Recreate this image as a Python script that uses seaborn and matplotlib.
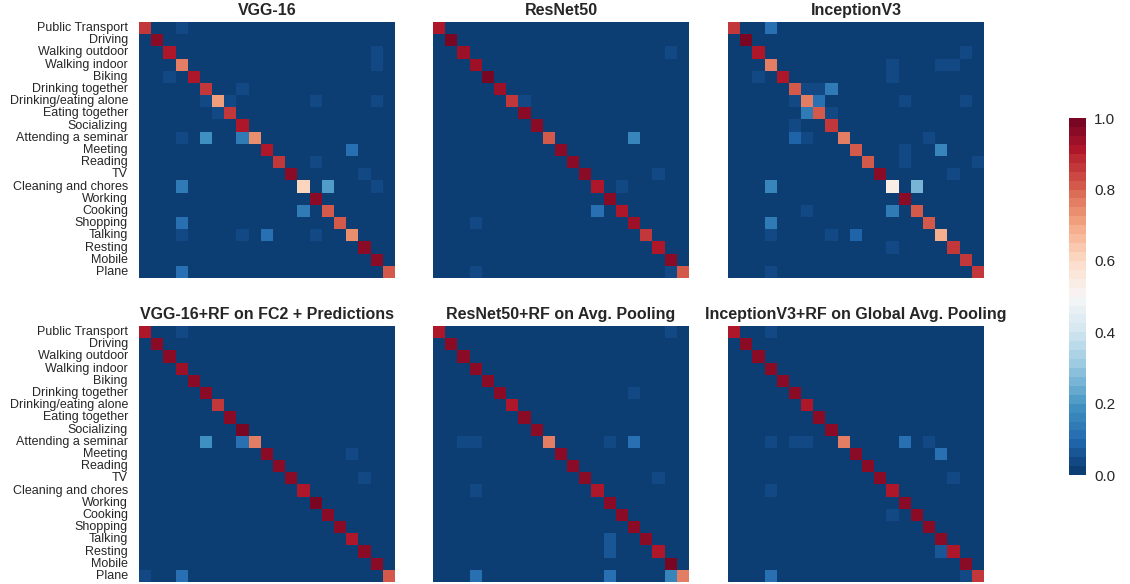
import numpy as np
import pandas as pd
import matplotlib
matplotlib.use('Agg')
import matplotlib.pyplot as plt
import seaborn as sns

sns.set_style('white')
plt.rcParams['font.family'] = ['Liberation Sans', 'DejaVu Sans']
plt.rcParams['text.color'] = '#262626'

activities = ['Public Transport', 'Driving', 'Walking outdoor', 'Walking indoor', 'Biking',
              'Drinking together', 'Drinking/eating alone', 'Eating together', 'Socializing',
              'Attending a seminar', 'Meeting', 'Reading', 'TV', 'Cleaning and chores', 'Working',
              'Cooking', 'Shopping', 'Talking', 'Resting', 'Mobile', 'Plane']

titles = ['VGG-16', 'ResNet50', 'InceptionV3',
          'VGG-16+RF on FC2 + Predictions', 'ResNet50+RF on Avg. Pooling',
          'InceptionV3+RF on Global Avg. Pooling']

# diagonal (correct) rates per model
diag_vgg = [0.87, 0.97, 0.91, 0.76, 0.92, 0.87, 0.72, 0.87, 0.92, 0.74, 0.92,
            0.87, 0.95, 0.60, 0.96, 0.80, 0.80, 0.74, 0.96, 0.96, 0.82]
diag_resnet = [0.91, 0.98, 0.93, 0.93, 0.98, 0.93, 0.87, 0.95, 0.95, 0.80, 0.95,
               0.95, 0.95, 0.91, 0.96, 0.91, 0.94, 0.87, 0.91, 0.96, 0.80]
diag_incep = [0.87, 0.98, 0.92, 0.77, 0.92, 0.80, 0.75, 0.80, 0.87, 0.77, 0.80,
              0.80, 0.95, 0.54, 0.96, 0.80, 0.80, 0.68, 0.87, 0.87, 0.87]
diag_vgg_rf = [0.91, 0.97, 0.95, 0.93, 0.97, 0.95, 0.87, 0.95, 0.98, 0.76, 0.95,
               0.95, 0.95, 0.92, 0.98, 0.95, 0.95, 0.92, 0.96, 0.95, 0.82]
diag_resnet_rf = [0.91, 0.97, 0.97, 0.96, 0.97, 0.96, 0.92, 0.96, 0.97, 0.76, 0.96,
                  0.97, 0.95, 0.91, 0.97, 0.96, 0.96, 0.95, 0.91, 0.98, 0.75]
diag_incep_rf = [0.90, 0.97, 0.95, 0.95, 0.97, 0.95, 0.90, 0.95, 0.96, 0.76, 0.95,
                 0.96, 0.95, 0.92, 0.97, 0.95, 0.95, 0.95, 0.90, 0.97, 0.86]

# off-diagonal confusions: (true row, predicted col, rate)
off_vgg = [(0, 3, 0.04), (2, 19, 0.04), (3, 19, 0.04), (4, 2, 0.04), (5, 8, 0.04),
           (6, 5, 0.04), (6, 7, 0.04), (6, 14, 0.04), (6, 19, 0.04), (7, 6, 0.04),
           (9, 3, 0.04), (9, 5, 0.18), (9, 8, 0.13), (10, 17, 0.12), (11, 14, 0.04),
           (12, 18, 0.04), (13, 3, 0.14), (13, 15, 0.22), (13, 19, 0.04), (15, 13, 0.13),
           (16, 3, 0.11), (17, 3, 0.04), (17, 8, 0.04), (17, 10, 0.11), (17, 14, 0.04),
           (20, 3, 0.11)]
off_resnet = [(2, 19, 0.04), (6, 7, 0.04), (9, 16, 0.17), (12, 18, 0.04), (13, 15, 0.04),
              (15, 13, 0.11), (16, 3, 0.04), (20, 3, 0.04), (20, 19, 0.04)]
off_incep = [(0, 3, 0.11), (2, 19, 0.04), (3, 13, 0.04), (3, 17, 0.04), (3, 18, 0.04),
             (4, 2, 0.04), (4, 13, 0.04), (5, 6, 0.04), (5, 7, 0.04), (5, 8, 0.13),
             (6, 5, 0.04), (6, 7, 0.11), (6, 14, 0.04), (6, 19, 0.04), (7, 6, 0.13),
             (7, 8, 0.04), (8, 5, 0.04), (9, 5, 0.09), (9, 6, 0.04), (9, 16, 0.04),
             (10, 14, 0.04), (10, 17, 0.16), (11, 14, 0.04), (11, 20, 0.04), (12, 18, 0.04),
             (13, 3, 0.15), (13, 15, 0.26), (15, 6, 0.04), (15, 13, 0.13), (16, 3, 0.13),
             (17, 3, 0.04), (17, 8, 0.04), (17, 10, 0.09), (18, 13, 0.04), (20, 3, 0.04)]
off_vgg_rf = [(0, 3, 0.04), (9, 5, 0.19), (9, 8, 0.1), (10, 17, 0.04), (12, 18, 0.04),
              (20, 0, 0.04), (20, 3, 0.12)]
off_resnet_rf = [(0, 19, 0.04), (5, 16, 0.04), (9, 2, 0.04), (9, 3, 0.04), (9, 14, 0.04),
                 (9, 16, 0.12), (12, 18, 0.04), (13, 3, 0.04), (17, 14, 0.07), (18, 14, 0.07),
                 (20, 3, 0.1), (20, 14, 0.1), (20, 19, 0.15)]
off_incep_rf = [(0, 3, 0.04), (9, 3, 0.04), (9, 5, 0.04), (9, 6, 0.04), (9, 14, 0.1),
                (9, 16, 0.04), (10, 17, 0.12), (12, 18, 0.04), (13, 3, 0.04), (15, 13, 0.04),
                (18, 17, 0.07), (20, 3, 0.1), (20, 19, 0.04)]

diags = [diag_vgg, diag_resnet, diag_incep, diag_vgg_rf, diag_resnet_rf, diag_incep_rf]
offs = [off_vgg, off_resnet, off_incep, off_vgg_rf, off_resnet_rf, off_incep_rf]


def build_matrix(diag, off):
    m = np.diag(np.array(diag, dtype=float))
    for r, c, v in off:
        m[r, c] = v
    return pd.DataFrame(m, index=activities, columns=activities)


cmap = sns.color_palette('RdBu_r', 40)

fig = plt.figure(figsize=(11.3, 5.84), dpi=100)
lefts = [0.123, 0.3832, 0.6442]
bottoms = [0.524, 0.0034]
w, h = 0.2265, 0.4384
cbar_ax = fig.add_axes([0.946, 0.1866, 0.015, 0.611])

for i in range(6):
    row, col = divmod(i, 3)
    ax = fig.add_axes([lefts[col], bottoms[row], w, h])
    sns.heatmap(build_matrix(diags[i], offs[i]), ax=ax, cmap=cmap, vmin=0, vmax=1,
                cbar=(i == 0), cbar_ax=cbar_ax if i == 0 else None,
                xticklabels=False, yticklabels=(col == 0))
    ax.set_title(titles[i], fontsize=11.5, fontweight='bold', pad=5)
    ax.tick_params(length=0, pad=8)
    if col == 0:
        ax.set_yticklabels(activities, rotation=0, fontsize=9)

cbar_ax.tick_params(length=0, labelsize=11, pad=6)
cbar_ax.set_yticks([0.0, 0.2, 0.4, 0.6, 0.8, 1.0])
cbar_ax.set_yticklabels(['0.0', '0.2', '0.4', '0.6', '0.8', '1.0'])
for s in cbar_ax.spines.values():
    s.set_visible(False)

plt.savefig('out.png', dpi=100)
